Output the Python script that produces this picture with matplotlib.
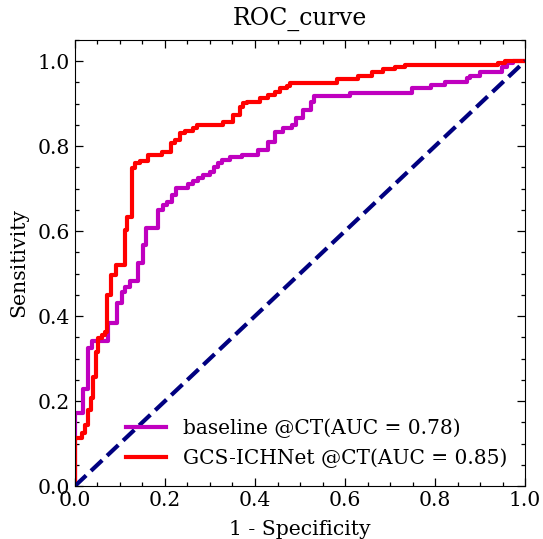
import matplotlib
matplotlib.use('Agg')
import matplotlib.pyplot as plt
from matplotlib.ticker import MultipleLocator

# ROC vertices
base_fpr = [0, 0, 0.018, 0.018, 0.030, 0.030, 0.038, 0.038, 0.073, 0.073, 0.093, 0.093,
            0.104, 0.104, 0.111, 0.111, 0.122, 0.122, 0.140, 0.140, 0.151, 0.151, 0.158, 0.158,
            0.184, 0.184, 0.196, 0.196, 0.204, 0.204, 0.216, 0.216, 0.224, 0.224, 0.251, 0.251,
            0.262, 0.262, 0.273, 0.273, 0.284, 0.284, 0.300, 0.300, 0.309, 0.309, 0.318, 0.318,
            0.327, 0.327, 0.344, 0.344, 0.371, 0.371, 0.407, 0.407, 0.429, 0.429, 0.444, 0.444,
            0.462, 0.462, 0.482, 0.482, 0.491, 0.491, 0.507, 0.507, 0.524, 0.524, 0.532, 0.532,
            0.611, 0.611, 0.749, 0.749, 0.791, 0.791, 0.822, 0.822, 0.871, 0.871, 0.878, 0.878,
            0.900, 0.900, 0.949, 0.949, 0.960, 0.960, 0.973, 0.973, 1.0]
base_tpr = [0, 0.172, 0.172, 0.228, 0.228, 0.325, 0.325, 0.341, 0.341, 0.384, 0.384, 0.431,
            0.431, 0.456, 0.456, 0.468, 0.468, 0.482, 0.482, 0.525, 0.525, 0.567, 0.567, 0.607,
            0.607, 0.649, 0.649, 0.661, 0.661, 0.668, 0.668, 0.685, 0.685, 0.701, 0.701, 0.711,
            0.711, 0.718, 0.718, 0.725, 0.725, 0.732, 0.732, 0.740, 0.740, 0.750, 0.750, 0.760,
            0.760, 0.767, 0.767, 0.774, 0.774, 0.779, 0.779, 0.791, 0.791, 0.809, 0.809, 0.833,
            0.833, 0.842, 0.842, 0.849, 0.849, 0.866, 0.866, 0.885, 0.885, 0.904, 0.904, 0.918,
            0.918, 0.925, 0.925, 0.936, 0.936, 0.944, 0.944, 0.951, 0.951, 0.960, 0.960, 0.965,
            0.965, 0.974, 0.974, 0.986, 0.986, 0.995, 0.995, 1.0, 1.0]

gcs_fpr = [0, 0, 0.016, 0.016, 0.022, 0.022, 0.029, 0.029, 0.036, 0.036, 0.040, 0.040,
           0.047, 0.047, 0.051, 0.051, 0.060, 0.060, 0.067, 0.067, 0.071, 0.071, 0.080, 0.080,
           0.091, 0.091, 0.111, 0.111, 0.116, 0.116, 0.127, 0.127, 0.133, 0.133, 0.144, 0.144,
           0.162, 0.162, 0.193, 0.193, 0.213, 0.213, 0.222, 0.222, 0.233, 0.233, 0.244, 0.244,
           0.262, 0.262, 0.271, 0.271, 0.329, 0.329, 0.351, 0.351, 0.367, 0.367, 0.373, 0.373,
           0.382, 0.382, 0.411, 0.411, 0.429, 0.429, 0.444, 0.444, 0.456, 0.456, 0.471, 0.471,
           0.478, 0.478, 0.582, 0.582, 0.629, 0.629, 0.660, 0.660, 0.684, 0.684, 0.711, 0.711,
           0.733, 0.733, 0.940, 0.940, 0.956, 0.956, 1.0]
gcs_tpr = [0, 0.113, 0.113, 0.125, 0.125, 0.144, 0.144, 0.179, 0.179, 0.207, 0.207, 0.256,
           0.256, 0.315, 0.315, 0.348, 0.348, 0.355, 0.355, 0.362, 0.362, 0.449, 0.449, 0.496,
           0.496, 0.520, 0.520, 0.602, 0.602, 0.633, 0.633, 0.748, 0.748, 0.760, 0.760, 0.765,
           0.765, 0.779, 0.779, 0.786, 0.786, 0.807, 0.807, 0.814, 0.814, 0.831, 0.831, 0.835,
           0.835, 0.842, 0.842, 0.849, 0.849, 0.856, 0.856, 0.873, 0.873, 0.892, 0.892, 0.901,
           0.901, 0.904, 0.904, 0.913, 0.913, 0.920, 0.920, 0.927, 0.927, 0.936, 0.936, 0.941,
           0.941, 0.948, 0.948, 0.958, 0.958, 0.965, 0.965, 0.974, 0.974, 0.981, 0.981, 0.986,
           0.986, 0.991, 0.991, 0.995, 0.995, 1.0, 1.0]

labels = ['baseline @CT(AUC = 0.78)', 'GCS-ICHNet @CT(AUC = 0.85)']

plt.rcParams['font.family'] = 'DejaVu Serif'
plt.rcParams['font.size'] = 14.7
plt.rcParams['mathtext.fontset'] = 'dejavuserif'

fig = plt.figure(figsize=(5.43, 5.39), dpi=100)
ax = fig.add_axes([0.138, 0.0983, 0.829, 0.8277])

ax.plot(base_fpr, base_tpr, color='m', lw=3, label=labels[0])
ax.plot(gcs_fpr, gcs_tpr, color='r', lw=3, label=labels[1])
ax.plot([0, 1], [0, 1], color='navy', lw=3, linestyle='--')

ax.set_xlim(0, 1.0)
ax.set_ylim(0, 1.05)
ax.xaxis.set_major_locator(MultipleLocator(0.2))
ax.xaxis.set_minor_locator(MultipleLocator(0.05))
ax.yaxis.set_major_locator(MultipleLocator(0.2))
ax.yaxis.set_minor_locator(MultipleLocator(0.05))
ax.tick_params(which='both', direction='in', top=True, right=True)
ax.tick_params(which='major', length=6, width=0.9)
ax.tick_params(which='minor', length=3, width=0.9)

ax.set_xlabel('1 - Specificity', labelpad=7.5)
ax.set_ylabel('Sensitivity', labelpad=7)
ax.set_title('ROC_curve', fontsize=17, pad=11)
ax.legend(loc='lower right', frameon=False, handlelength=2.0, fontsize=14.5)

fig.savefig('out.png', dpi=100)
